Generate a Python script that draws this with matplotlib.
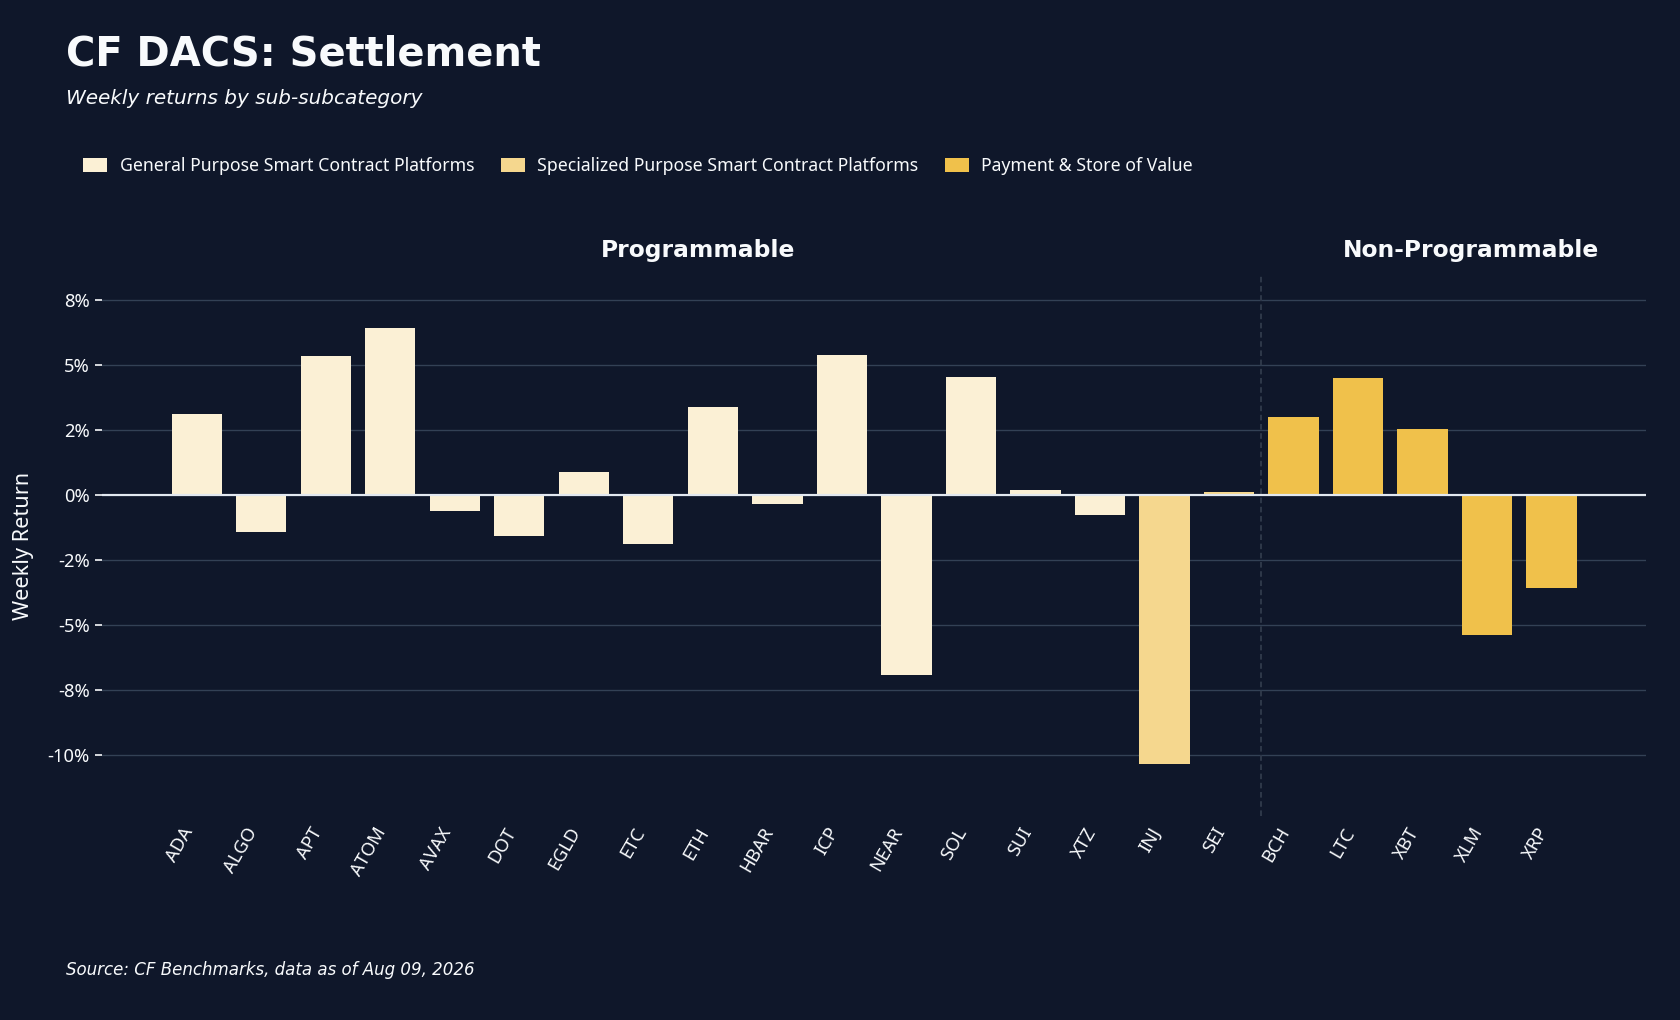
import matplotlib
matplotlib.use("Agg")
import matplotlib.pyplot as plt
from matplotlib.patches import Patch
from matplotlib.ticker import MultipleLocator, FuncFormatter

# weekly returns in percent
tickers = ["ADA", "ALGO", "APT", "ATOM", "AVAX", "DOT", "EGLD", "ETC", "ETH", "HBAR",
           "ICP", "NEAR", "SOL", "SUI", "XTZ", "INJ", "SEI",
           "BCH", "LTC", "XBT", "XLM", "XRP"]
returns = [3.13, -1.44, 5.36, 6.43, -0.62, -1.57, 0.87, -1.90, 3.38, -0.33,
           5.40, -6.92, 4.53, 0.21, -0.78, -10.34, 0.12,
           3.01, 4.49, 2.55, -5.40, -3.58]
subcats = (["General Purpose Smart Contract Platforms"] * 15
           + ["Specialized Purpose Smart Contract Platforms"] * 2
           + ["Payment & Store of Value"] * 5)
subcat_order = ["General Purpose Smart Contract Platforms",
                "Specialized Purpose Smart Contract Platforms",
                "Payment & Store of Value"]
groups = ["Programmable", "Non-Programmable"]
n_programmable = 17

BG = "#0f172a"
GRID = "#334155"
TEXT = "#f8fafc"
colors = {
    "General Purpose Smart Contract Platforms": "#fbf0d5",
    "Specialized Purpose Smart Contract Platforms": "#f5d78e",
    "Payment & Store of Value": "#f0c14b",
}

plt.rcParams["font.family"] = ["Noto Sans", "DejaVu Sans"]
DV = ["DejaVu Sans"]

fig = plt.figure(figsize=(14, 8.5), dpi=120, facecolor=BG)
ax = fig.add_axes([0.061, 0.200, 0.919, 0.530], facecolor=BG)

x = list(range(len(tickers)))
ax.bar(x, returns, width=0.78, color=[colors[c] for c in subcats], zorder=3)

ax.axhline(0, color="#e2e8f0", lw=1.3, zorder=4)
ax.axvline(n_programmable - 0.5, color="#2d3748", lw=1.2, ls=(0, (2.8, 1.8)), zorder=2)

ax.set_xlim(-1.46, len(tickers) + 0.47)
ax.set_ylim(-12.35, 8.45)
ax.yaxis.set_major_locator(MultipleLocator(2.5))
ax.yaxis.set_major_formatter(FuncFormatter(lambda v, p: f"{v:.0f}%"))
ax.grid(axis="y", color=GRID, lw=0.8, zorder=0)
ax.set_axisbelow(True)

ax.set_xticks(x)
ax.set_xticklabels(tickers, rotation=60, ha="right")
ax.tick_params(axis="x", length=0, pad=5, colors=TEXT, labelsize=11)
ax.tick_params(axis="y", length=4, width=1, colors=TEXT, labelsize=11)
for s in ax.spines.values():
    s.set_visible(False)

ax.set_ylabel("Weekly Return", color=TEXT, fontsize=13, labelpad=8)

# group headers above the bars
label_x = [7.77, 19.75]
for gx, g in zip(label_x, groups):
    ax.text(gx, 1.046, g, transform=ax.get_xaxis_transform(), ha="center", va="center",
            color=TEXT, fontsize=14, fontweight="bold", family=DV)

fig.text(0.039, 0.947, "CF DACS: Settlement", color=TEXT, fontsize=24,
         fontweight="bold", va="center", ha="left", family=DV)
fig.text(0.039, 0.903, "Weekly returns by sub-subcategory", color=TEXT, fontsize=12,
         style="italic", va="center", ha="left", family=DV)
fig.text(0.039, 0.049, "Source: CF Benchmarks, data as of Aug 09, 2026", color=TEXT,
         fontsize=10, style="italic", va="center", ha="left", family=DV)

handles = [Patch(facecolor=colors[c], label=c) for c in subcat_order]
fig.legend(handles=handles, loc="center left", bbox_to_anchor=(0.04, 0.837), ncol=3,
           frameon=False, fontsize=10.6, labelcolor=TEXT, handlelength=1.35,
           handleheight=0.9, handletextpad=0.72, columnspacing=1.5)

fig.savefig("out.png", dpi=120, facecolor=BG)
